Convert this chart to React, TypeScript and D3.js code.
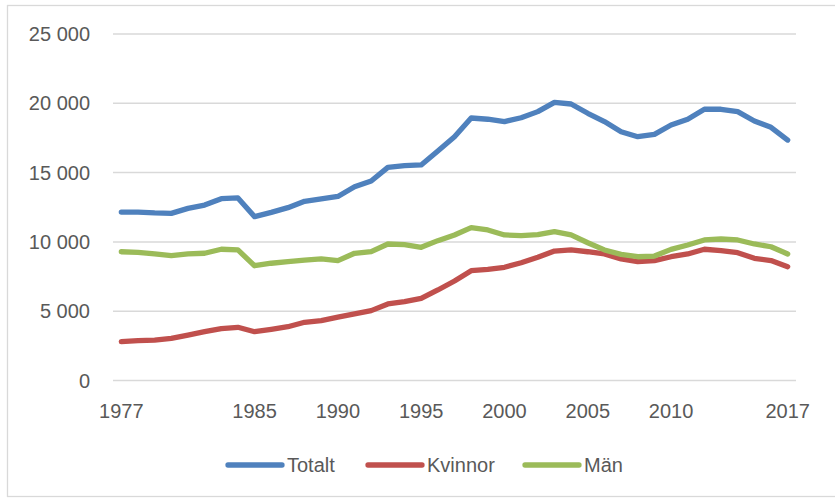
import React from "react";
import * as d3 from "d3";

const years: number[] = [
  1977, 1978, 1979, 1980, 1981, 1982, 1983, 1984, 1985, 1986, 1987, 1988, 1989, 1990,
  1991, 1992, 1993, 1994, 1995, 1996, 1997, 1998, 1999, 2000, 2001, 2002, 2003, 2004,
  2005, 2006, 2007, 2008, 2009, 2010, 2011, 2012, 2013, 2014, 2015, 2016, 2017,
];
const labeledYears: number[] = [1977, 1985, 1990, 1995, 2000, 2005, 2010, 2017];

const totalt: number[] = [
  12150, 12150, 12090, 12060, 12420, 12660, 13120, 13170, 11820, 12130, 12470, 12930, 13100, 13280,
  13980, 14390, 15380, 15500, 15550, 16560, 17590, 18940, 18850, 18680, 18960, 19400, 20070, 19950,
  19280, 18680, 17950, 17590, 17760, 18430, 18850, 19570, 19570, 19400, 18720, 18270, 17350,
];
const kvinnor: number[] = [
  2800, 2870, 2920, 3040, 3280, 3520, 3740, 3840, 3520, 3690, 3880, 4200, 4320, 4570,
  4800, 5040, 5520, 5690, 5930, 6530, 7180, 7920, 8020, 8170, 8500, 8890, 9340, 9420,
  9290, 9130, 8770, 8570, 8650, 8930, 9130, 9470, 9370, 9220, 8820, 8650, 8210,
];
const man: number[] = [
  9290, 9250, 9130, 9010, 9130, 9180, 9470, 9420, 8280, 8460, 8570, 8690, 8770, 8650,
  9180, 9300, 9850, 9800, 9610, 10090, 10500, 11030, 10860, 10500, 10450, 10520, 10740, 10500,
  9940, 9420, 9100, 8930, 8980, 9460, 9780, 10140, 10210, 10140, 9850, 9650, 9130,
];
const yTicks: number[] = [0, 5000, 10000, 15000, 20000, 25000];

const seriesNames = ["Totalt", "Kvinnor", "Män"];
const seriesColors = ["#4F81BD", "#C0504D", "#9BBB59"];
const seriesValues = [totalt, kvinnor, man];

const W = 835;
const H = 499;
const FONT = "'Liberation Sans', Arial, sans-serif";

export default function App() {
  const x = d3.scalePoint<number>().domain(years).range([113, 796]).padding(0.5);
  const y = d3.scaleLinear().domain([0, 25000]).range([380.5, 34]);
  const line = d3
    .line<number>()
    .x((_, i) => x(years[i]) as number)
    .y((d) => y(d));
  const fmt = (v: number) => d3.format(",")(v).replace(/,/g, " ");

  const legendItems = [
    { lx: 228, tx: 287 },
    { lx: 368, tx: 427 },
    { lx: 525, tx: 584 },
  ];

  return (
    <svg
      width={W}
      height={H}
      style={{ position: "absolute", left: 0, top: 0, background: "#fff" }}
      fontFamily={FONT}
    >
      <rect x={7.5} y={5.5} width={850} height={491} fill="#fff" stroke="#d9d9d9" strokeWidth={1.3} />
      {yTicks.map((t) => (
        <g key={t}>
          <line x1={113} x2={796} y1={y(t)} y2={y(t)} stroke="#d9d9d9" strokeWidth={1.5} />
          <text x={90} y={y(t)} dy="0.35em" textAnchor="end" fontSize={20} fill="#595959">
            {fmt(t)}
          </text>
        </g>
      ))}
      {labeledYears.map((yr) => (
        <text key={yr} x={x(yr) as number} y={411} dy="0.35em" textAnchor="middle" fontSize={20} fill="#595959">
          {yr}
        </text>
      ))}
      {seriesValues.map((vals, i) => (
        <path
          key={seriesNames[i]}
          d={line(vals) || ""}
          fill="none"
          stroke={seriesColors[i]}
          strokeWidth={5.3}
          strokeLinejoin="round"
          strokeLinecap="round"
        />
      ))}
      {seriesNames.map((name, i) => (
        <g key={name}>
          <line
            x1={legendItems[i].lx}
            x2={legendItems[i].lx + 54}
            y1={465}
            y2={465}
            stroke={seriesColors[i]}
            strokeWidth={5.3}
            strokeLinecap="round"
          />
          <text x={legendItems[i].tx} y={465} dy="0.35em" fontSize={20} fill="#595959">
            {name}
          </text>
        </g>
      ))}
    </svg>
  );
}
